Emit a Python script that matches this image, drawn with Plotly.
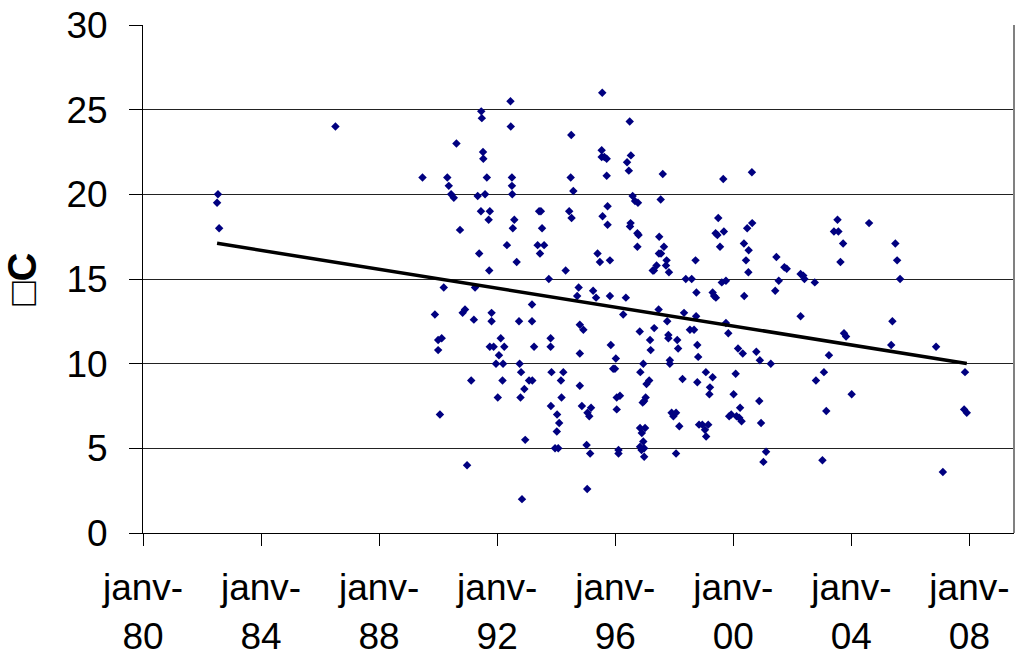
import numpy as np
import plotly.graph_objects as go

# Sampling dates (decimal years) and measured temperatures in °C
sample_year = [
    1982.51, 1982.54, 1982.58, 1986.52, 1989.47, 1989.89, 1990.00, 1990.00, 1990.06, 1990.12,
    1990.19, 1990.31, 1990.36, 1990.44, 1990.53, 1990.62, 1990.74, 1990.83, 1990.91, 1990.98,
    1991.12, 1991.21, 1991.25, 1991.34, 1991.39, 1991.45, 1991.46, 1991.48, 1991.52, 1991.53,
    1991.59, 1991.65, 1991.71, 1991.73, 1991.75, 1991.75, 1991.81, 1991.81, 1991.88, 1991.96,
    1992.02, 1992.06, 1992.12, 1992.18, 1992.20, 1992.24, 1992.33, 1992.45, 1992.46, 1992.50,
    1992.50, 1992.51, 1992.53, 1992.58, 1992.66, 1992.74, 1992.76, 1992.79, 1992.81, 1992.84,
    1992.92, 1992.95, 1993.08, 1993.18, 1993.18, 1993.19, 1993.25, 1993.37, 1993.42, 1993.45,
    1993.48, 1993.52, 1993.59, 1993.75, 1993.81, 1993.81, 1993.82, 1993.84, 1993.96, 1994.02,
    1994.03, 1994.07, 1994.10, 1994.16, 1994.18, 1994.24, 1994.32, 1994.44, 1994.49, 1994.51,
    1994.52, 1994.58, 1994.71, 1994.76, 1994.80, 1994.80, 1994.80, 1994.87, 1994.92, 1995.03,
    1995.05, 1995.06, 1995.12, 1995.15, 1995.18, 1995.25, 1995.35, 1995.40, 1995.48, 1995.54,
    1995.54, 1995.56, 1995.57, 1995.63, 1995.71, 1995.71, 1995.74, 1995.74, 1995.82, 1995.82,
    1995.85, 1995.93, 1995.99, 1996.02, 1996.05, 1996.05, 1996.11, 1996.11, 1996.16, 1996.27,
    1996.36, 1996.40, 1996.46, 1996.49, 1996.50, 1996.52, 1996.53, 1996.59, 1996.67, 1996.75,
    1996.75, 1996.77, 1996.79, 1996.83, 1996.84, 1996.84, 1996.85, 1996.89, 1996.90, 1996.93,
    1996.95, 1996.95, 1996.98, 1996.98, 1996.98, 1997.01, 1997.03, 1997.06, 1997.15, 1997.18,
    1997.20, 1997.27, 1997.31, 1997.32, 1997.40, 1997.47, 1997.48, 1997.49, 1997.54, 1997.55,
    1997.61, 1997.65, 1997.72, 1997.74, 1997.76, 1997.80, 1997.80, 1997.82, 1997.85, 1997.85,
    1997.91, 1997.97, 1998.06, 1998.06, 1998.10, 1998.13, 1998.17, 1998.28, 1998.33, 1998.39,
    1998.53, 1998.59, 1998.67, 1998.72, 1998.74, 1998.75, 1998.78, 1998.78, 1998.81, 1998.84,
    1998.95, 1999.04, 1999.07, 1999.08, 1999.15, 1999.19, 1999.21, 1999.30, 1999.30, 1999.35,
    1999.40, 1999.41, 1999.46, 1999.49, 1999.55, 1999.61, 1999.66, 1999.68, 1999.75, 1999.75,
    1999.83, 1999.86, 1999.93, 2000.01, 2000.08, 2000.11, 2000.16, 2000.20, 2000.23, 2000.28,
    2000.32, 2000.36, 2000.37, 2000.43, 2000.47, 2000.51, 2000.52, 2000.63, 2000.64, 2000.78,
    2000.88, 2000.90, 2000.94, 2001.02, 2001.11, 2001.27, 2001.42, 2001.46, 2001.54, 2001.73,
    2001.81, 2002.28, 2002.28, 2002.37, 2002.41, 2002.76, 2002.80, 2003.02, 2003.07, 2003.15,
    2003.24, 2003.41, 2003.53, 2003.56, 2003.63, 2003.72, 2003.75, 2003.82, 2004.01, 2004.60,
    2005.35, 2005.39, 2005.49, 2005.55, 2005.65, 2006.87, 2007.10, 2007.82, 2007.85, 2007.91,
]

temperature = [
    19.5, 20.0, 18.0, 24.0, 21.0, 12.9, 11.4, 10.8, 7.0, 11.5,
    14.5, 21.0, 20.5, 20.0, 19.8, 23.0, 17.9, 13.0, 13.2, 4.0,
    9.0, 12.6, 14.5, 19.9, 16.5, 19.0, 24.9, 24.5, 22.5, 22.1,
    20.0, 21.0, 18.5, 15.5, 19.0, 11.0, 13.0, 12.5, 11.0, 10.0,
    8.0, 10.5, 11.5, 9.0, 10.0, 11.0, 17.0, 25.5, 24.0, 21.0,
    20.5, 20.0, 18.0, 18.5, 16.0, 12.5, 10.0, 8.0, 9.5, 2.0,
    8.5, 5.5, 9.0, 13.5, 12.5, 9.0, 11.0, 17.0, 19.0, 16.5,
    19.0, 18.0, 17.0, 15.0, 11.5, 11.0, 7.5, 9.5, 5.0, 6.0,
    7.0, 5.0, 6.5, 9.0, 8.0, 9.5, 15.5, 19.0, 21.0, 23.5,
    18.6, 20.2, 14.0, 14.5, 12.3, 10.6, 8.7, 7.5, 12.0, 5.2,
    2.6, 7.1, 6.9, 4.7, 7.4, 14.3, 13.9, 16.5, 16.0, 22.6,
    22.2, 26.0, 18.7, 22.2, 22.1, 21.1, 19.3, 18.2, 16.1, 14.0,
    11.1, 9.7, 9.7, 10.3, 8.0, 7.3, 4.9, 4.7, 8.1, 12.9,
    13.9, 21.9, 21.4, 24.3, 18.1, 18.3, 22.3, 19.9, 19.6, 17.7,
    16.9, 19.5, 17.6, 11.9, 6.2, 5.1, 9.5, 4.9, 5.9, 7.7,
    10.0, 5.4, 7.8, 5.0, 4.5, 6.2, 8.0, 8.8, 9.0, 11.4,
    10.8, 15.5, 15.5, 12.1, 15.8, 13.2, 16.5, 17.5, 19.7, 16.5,
    21.2, 16.9, 15.8, 16.1, 12.5, 11.7, 11.5, 15.4, 10.2, 10.0,
    7.1, 6.9, 7.1, 4.7, 11.4, 10.9, 6.3, 9.1, 13.0, 15.0,
    12.0, 15.0, 12.0, 16.1, 12.8, 14.2, 11.1, 8.9, 10.4, 6.4,
    6.4, 6.1, 9.5, 5.7, 6.4, 8.2, 8.6, 14.2, 9.2, 14.0,
    17.7, 13.9, 17.6, 18.6, 16.9, 14.8, 20.9, 17.8, 14.9, 12.4,
    11.8, 6.9, 7.0, 8.2, 9.4, 6.9, 10.9, 6.8, 7.4, 6.6,
    10.6, 17.1, 14.0, 16.1, 18.0, 15.4, 16.7, 21.3, 18.3, 10.7,
    7.8, 10.2, 6.5, 4.2, 4.8, 10.0, 14.3, 16.3, 14.9, 15.7,
    15.6, 15.3, 12.8, 15.2, 15.0, 14.8, 9.0, 4.3, 9.5, 7.2,
    10.5, 17.8, 18.5, 17.8, 16.0, 17.1, 11.8, 11.6, 8.2, 18.3,
    11.1, 12.5, 17.1, 16.1, 15.0, 11.0, 3.6, 7.3, 9.5, 7.1,
]

tick_years = [1980, 1984, 1988, 1992, 1996, 2000, 2004, 2008]
tick_labels = ["janv-<br>80", "janv-<br>84", "janv-<br>88", "janv-<br>92",
               "janv-<br>96", "janv-<br>00", "janv-<br>04", "janv-<br>08"]
temp_ticks = [0, 5, 10, 15, 20, 25, 30]

# Linear least-squares trend over the sampled period
slope, intercept = np.polyfit(sample_year, temperature, 1)
trend_x = [min(sample_year), max(sample_year)]
trend_y = [slope * x + intercept for x in trend_x]

fig = go.Figure()
fig.add_trace(go.Scatter(
    x=sample_year, y=temperature, mode="markers",
    marker=dict(symbol="diamond", size=6.5, color="#000080",
                line=dict(width=0)),
    hoverinfo="x+y",
))
fig.add_trace(go.Scatter(
    x=trend_x, y=trend_y, mode="lines",
    line=dict(color="black", width=3.5),
    hoverinfo="skip",
))

axis_font = dict(family="Liberation Sans, Arial, sans-serif", size=37, color="black")

fig.update_layout(
    width=1018, height=662,
    margin=dict(l=143, r=4, t=25, b=129),
    paper_bgcolor="white", plot_bgcolor="white",
    showlegend=False,
    font=dict(family="Liberation Sans, Arial, sans-serif", color="black"),
    xaxis=dict(
        range=[1980, 2009.51],
        tickmode="array", tickvals=tick_years, ticktext=tick_labels,
        ticks="outside", ticklen=12, tickwidth=1, tickcolor="black",
        showline=True, linecolor="black", linewidth=1,
        showgrid=False, zeroline=False,
        tickfont=axis_font,
        ticklabelstandoff=10,
    ),
    yaxis=dict(
        range=[0, 30],
        tickmode="array", tickvals=temp_ticks,
        ticks="outside", ticklen=13, tickwidth=1, tickcolor="black",
        showline=True, linecolor="black", linewidth=1,
        showgrid=True, gridcolor="#222222", gridwidth=1,
        zeroline=False,
        tickfont=axis_font,
        ticklabelstandoff=14,
        title=dict(text="□C", standoff=22,
                   font=dict(family="Liberation Sans, Arial, sans-serif",
                             size=40, color="black", weight="bold")),
    ),
    shapes=[dict(type="line", xref="paper", yref="paper",
                 x0=1, x1=1, y0=0, y1=1,
                 line=dict(color="#808080", width=2))],
)

fig.write_html("out.html")
